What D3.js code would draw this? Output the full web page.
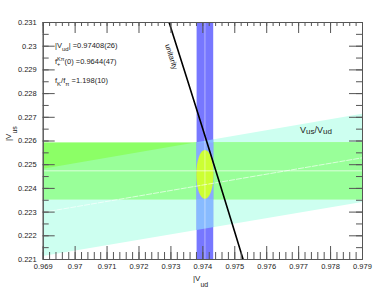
<!DOCTYPE html>
<html>
<head>
<meta charset="utf-8">
<script src="https://cdn.jsdelivr.net/npm/d3@7"></script>
<style>
  body { margin: 0; background: #fff; }
  text { font-family: "Liberation Sans", Arial, sans-serif; }
</style>
</head>
<body>
<svg id="chart"></svg>
<script>
// axis ticks and labels as printed on the plot
var xMajor = [0.969, 0.97, 0.971, 0.972, 0.973, 0.974, 0.975, 0.976, 0.977, 0.978, 0.979];
var xLabels = ["0.969", "0.97", "0.971", "0.972", "0.973", "0.974", "0.975", "0.976", "0.977", "0.978", "0.979"];
var yMajor = [0.221, 0.222, 0.223, 0.224, 0.225, 0.226, 0.227, 0.228, 0.229, 0.23, 0.231];
var yLabels = ["0.221", "0.222", "0.223", "0.224", "0.225", "0.226", "0.227", "0.228", "0.229", "0.23", "0.231"];

// measurements: [central, error]
var vud = [0.97408, 0.00026];     // superallowed beta decays
var vusKl3 = [0.22472, 0.0012];   // from f+(0) and Kl3
var ratio = [0.2301, 0.0019];     // Vus/Vud from fK/fpi
var fit = [0.97408, 0.22457, 0.00027, 0.00103]; // combined ellipse: x, y, dx, dy

var width = 374, height = 289;
// plot frame (note: "top" is reserved on window, so use a box object)
var box = { l: 42.7, r: 362, t: 22, b: 259 };

var x = d3.scaleLinear().domain([0.969, 0.979]).range([box.l, box.r]);
var y = d3.scaleLinear().domain([0.221, 0.231]).range([box.b, box.t]);

var svg = d3.select("#chart").attr("width", width).attr("height", height);
var defs = svg.append("defs");

// clip regions
defs.append("clipPath").attr("id", "clipPlot").append("rect")
  .attr("x", box.l).attr("y", box.t).attr("width", box.r - box.l).attr("height", box.b - box.t);

function greenRect(sel) {
  return sel.attr("x", box.l).attr("width", box.r - box.l)
    .attr("y", y(vusKl3[0] + vusKl3[1]))
    .attr("height", y(vusKl3[0] - vusKl3[1]) - y(vusKl3[0] + vusKl3[1]));
}
function blueRect(sel) {
  return sel.attr("x", x(vud[0] - vud[1])).attr("width", x(vud[0] + vud[1]) - x(vud[0] - vud[1]))
    .attr("y", box.t).attr("height", box.b - box.t);
}
var xs = x.domain();
var cyanPts = [
  [xs[0], (ratio[0] + ratio[1]) * xs[0]],
  [xs[1], (ratio[0] + ratio[1]) * xs[1]],
  [xs[1], (ratio[0] - ratio[1]) * xs[1]],
  [xs[0], (ratio[0] - ratio[1]) * xs[0]],
];
function cyanPoly(sel) {
  return sel.attr("points", cyanPts.map((p) => x(p[0]) + "," + y(p[1])).join(" "));
}

greenRect(defs.append("clipPath").attr("id", "clipGreen").append("rect"));
cyanPoly(defs.append("clipPath").attr("id", "clipCyan").append("polygon"));

var plot = svg.append("g").attr("clip-path", "url(#clipPlot)");

// Vus/Vud band
cyanPoly(plot.append("polygon")).attr("fill", "#cdfff0");
// Kl3 band
greenRect(plot.append("rect")).attr("fill", "#8cff66");
cyanPoly(plot.append("polygon")).attr("fill", "#99ff99").attr("clip-path", "url(#clipGreen)");
// Vud band
blueRect(plot.append("rect")).attr("fill", "#7777ff");
blueRect(plot.append("g").attr("clip-path", "url(#clipCyan)").append("rect")).attr("fill", "#88bbff");
blueRect(plot.append("g").attr("clip-path", "url(#clipGreen)").append("rect")).attr("fill", "#88aaff");

// fit ellipse
plot.append("ellipse")
  .attr("cx", x(fit[0])).attr("cy", y(fit[1]))
  .attr("rx", x(fit[0] + fit[2]) - x(fit[0]))
  .attr("ry", y(fit[1]) - y(fit[1] + fit[3]))
  .attr("fill", "#ccff33");

// central values
plot.append("line")
  .attr("x1", x(vud[0])).attr("x2", x(vud[0])).attr("y1", box.t).attr("y2", box.b)
  .attr("stroke", "#fff").attr("stroke-opacity", 0.3).attr("stroke-width", 1.5);
plot.append("line")
  .attr("x1", box.l).attr("x2", box.r).attr("y1", y(vusKl3[0])).attr("y2", y(vusKl3[0]))
  .attr("stroke", "#fff").attr("stroke-opacity", 0.8).attr("stroke-width", 0.8);
plot.append("line")
  .attr("x1", x(xs[0])).attr("x2", x(xs[1]))
  .attr("y1", y(ratio[0] * xs[0])).attr("y2", y(ratio[0] * xs[1]))
  .attr("stroke", "#fff").attr("stroke-opacity", 0.8).attr("stroke-width", 0.8)
  .attr("stroke-dasharray", "6,1");

// unitarity: |Vud|^2 + |Vus|^2 = 1
var uni = d3.range(0.972, 0.9765, 0.0005).map((v) => [v, Math.sqrt(1 - v * v)]);
plot.append("path")
  .attr("d", d3.line().x((d) => x(d[0])).y((d) => y(d[1]))(uni))
  .attr("fill", "none").attr("stroke", "#000").attr("stroke-width", 1.6);

// axes
var xMinor = d3.range(0, 51).map((i) => 0.969 + i * 0.0002);
var yMinor = d3.range(0, 21).map((i) => 0.221 + i * 0.0005);
var axisColor = "#555";

function styleAxis(g) {
  g.selectAll("path.domain").attr("stroke", axisColor);
  g.selectAll(".tick line").attr("stroke", axisColor);
  g.selectAll("text").attr("fill", "#222").attr("font-size", "7.5px");
}

svg.append("g").attr("transform", `translate(0,${box.b})`)
  .call(d3.axisBottom(x).tickValues(xMinor).tickSize(-7).tickSizeOuter(0).tickFormat(""))
  .call(styleAxis);
svg.append("g").attr("transform", `translate(0,${box.b})`)
  .call(d3.axisBottom(x).tickValues(xMajor).tickSize(-13).tickSizeOuter(0).tickPadding(5)
    .tickFormat((d, i) => xLabels[i]))
  .call(styleAxis);
svg.append("g").attr("transform", `translate(0,${box.t})`)
  .call(d3.axisTop(x).tickValues(xMinor).tickSize(-4).tickSizeOuter(0).tickFormat(""))
  .call(styleAxis);
svg.append("g").attr("transform", `translate(0,${box.t})`)
  .call(d3.axisTop(x).tickValues(xMajor).tickSize(-11).tickSizeOuter(0).tickFormat(""))
  .call(styleAxis);
svg.append("g").attr("transform", `translate(${box.l},0)`)
  .call(d3.axisLeft(y).tickValues(yMinor).tickSize(-6).tickSizeOuter(0).tickFormat(""))
  .call(styleAxis);
svg.append("g").attr("transform", `translate(${box.l},0)`)
  .call(d3.axisLeft(y).tickValues(yMajor).tickSize(-12).tickSizeOuter(0).tickPadding(6)
    .tickFormat((d, i) => yLabels[i]))
  .call(styleAxis);
svg.append("g").attr("transform", `translate(${box.r},0)`)
  .call(d3.axisRight(y).tickValues(yMinor).tickSize(-6).tickSizeOuter(0).tickFormat(""))
  .call(styleAxis);
svg.append("g").attr("transform", `translate(${box.r},0)`)
  .call(d3.axisRight(y).tickValues(yMajor).tickSize(-13).tickSizeOuter(0).tickFormat(""))
  .call(styleAxis);

// axis titles
var xt = svg.append("text").attr("x", 193).attr("y", 281).attr("font-size", "8px").attr("fill", "#222");
xt.append("tspan").text("|V");
xt.append("tspan").attr("dy", 6).attr("font-size", "7px").text("ud");

var yt = svg.append("text").attr("transform", "translate(11,141) rotate(-90)")
  .attr("font-size", "8px").attr("fill", "#222");
yt.append("tspan").text("|V");
yt.append("tspan").attr("dy", 6).attr("font-size", "7px").text("us");

// annotations
var t1 = svg.append("text").attr("x", 55).attr("y", 48).attr("font-size", "7.5px").attr("fill", "#222");
t1.append("tspan").text("|V");
t1.append("tspan").attr("dy", 2.5).attr("font-size", "6px").text("ud");
t1.append("tspan").attr("dy", -2.5).text("| =0.97408(26)");

var t2 = svg.append("text").attr("x", 55).attr("y", 64).attr("font-size", "7.5px").attr("fill", "#222");
t2.append("tspan").text("f");
t2.append("tspan").attr("dy", -3.5).attr("font-size", "5.5px").text("Kπ");
t2.append("tspan").attr("dy", 3.5).text("(0) =0.9644(47)");
svg.append("text").attr("x", 57).attr("y", 66).attr("font-size", "5.5px").attr("fill", "#222").text("+");

var t3 = svg.append("text").attr("x", 55).attr("y", 83).attr("font-size", "7.5px").attr("fill", "#222");
t3.append("tspan").text("f");
t3.append("tspan").attr("dy", 2.5).attr("font-size", "6px").text("K");
t3.append("tspan").attr("dy", -2.5).text("/f");
t3.append("tspan").attr("dy", 2.5).attr("font-size", "6px").text("π");
t3.append("tspan").attr("dy", -2.5).text(" =1.198(10)");

var t4 = svg.append("text").attr("x", 300).attr("y", 133).attr("font-size", "9px").attr("fill", "#222");
t4.append("tspan").text("V");
t4.append("tspan").attr("dy", 1).attr("font-size", "8px").text("us");
t4.append("tspan").attr("dy", -1).text("/V");
t4.append("tspan").attr("dy", 1).attr("font-size", "8px").text("ud");

svg.append("text").attr("transform", "translate(165,45) rotate(72.5)")
  .attr("font-size", "7.5px").attr("fill", "#111").text("unitarity");
</script>
</body>
</html>
